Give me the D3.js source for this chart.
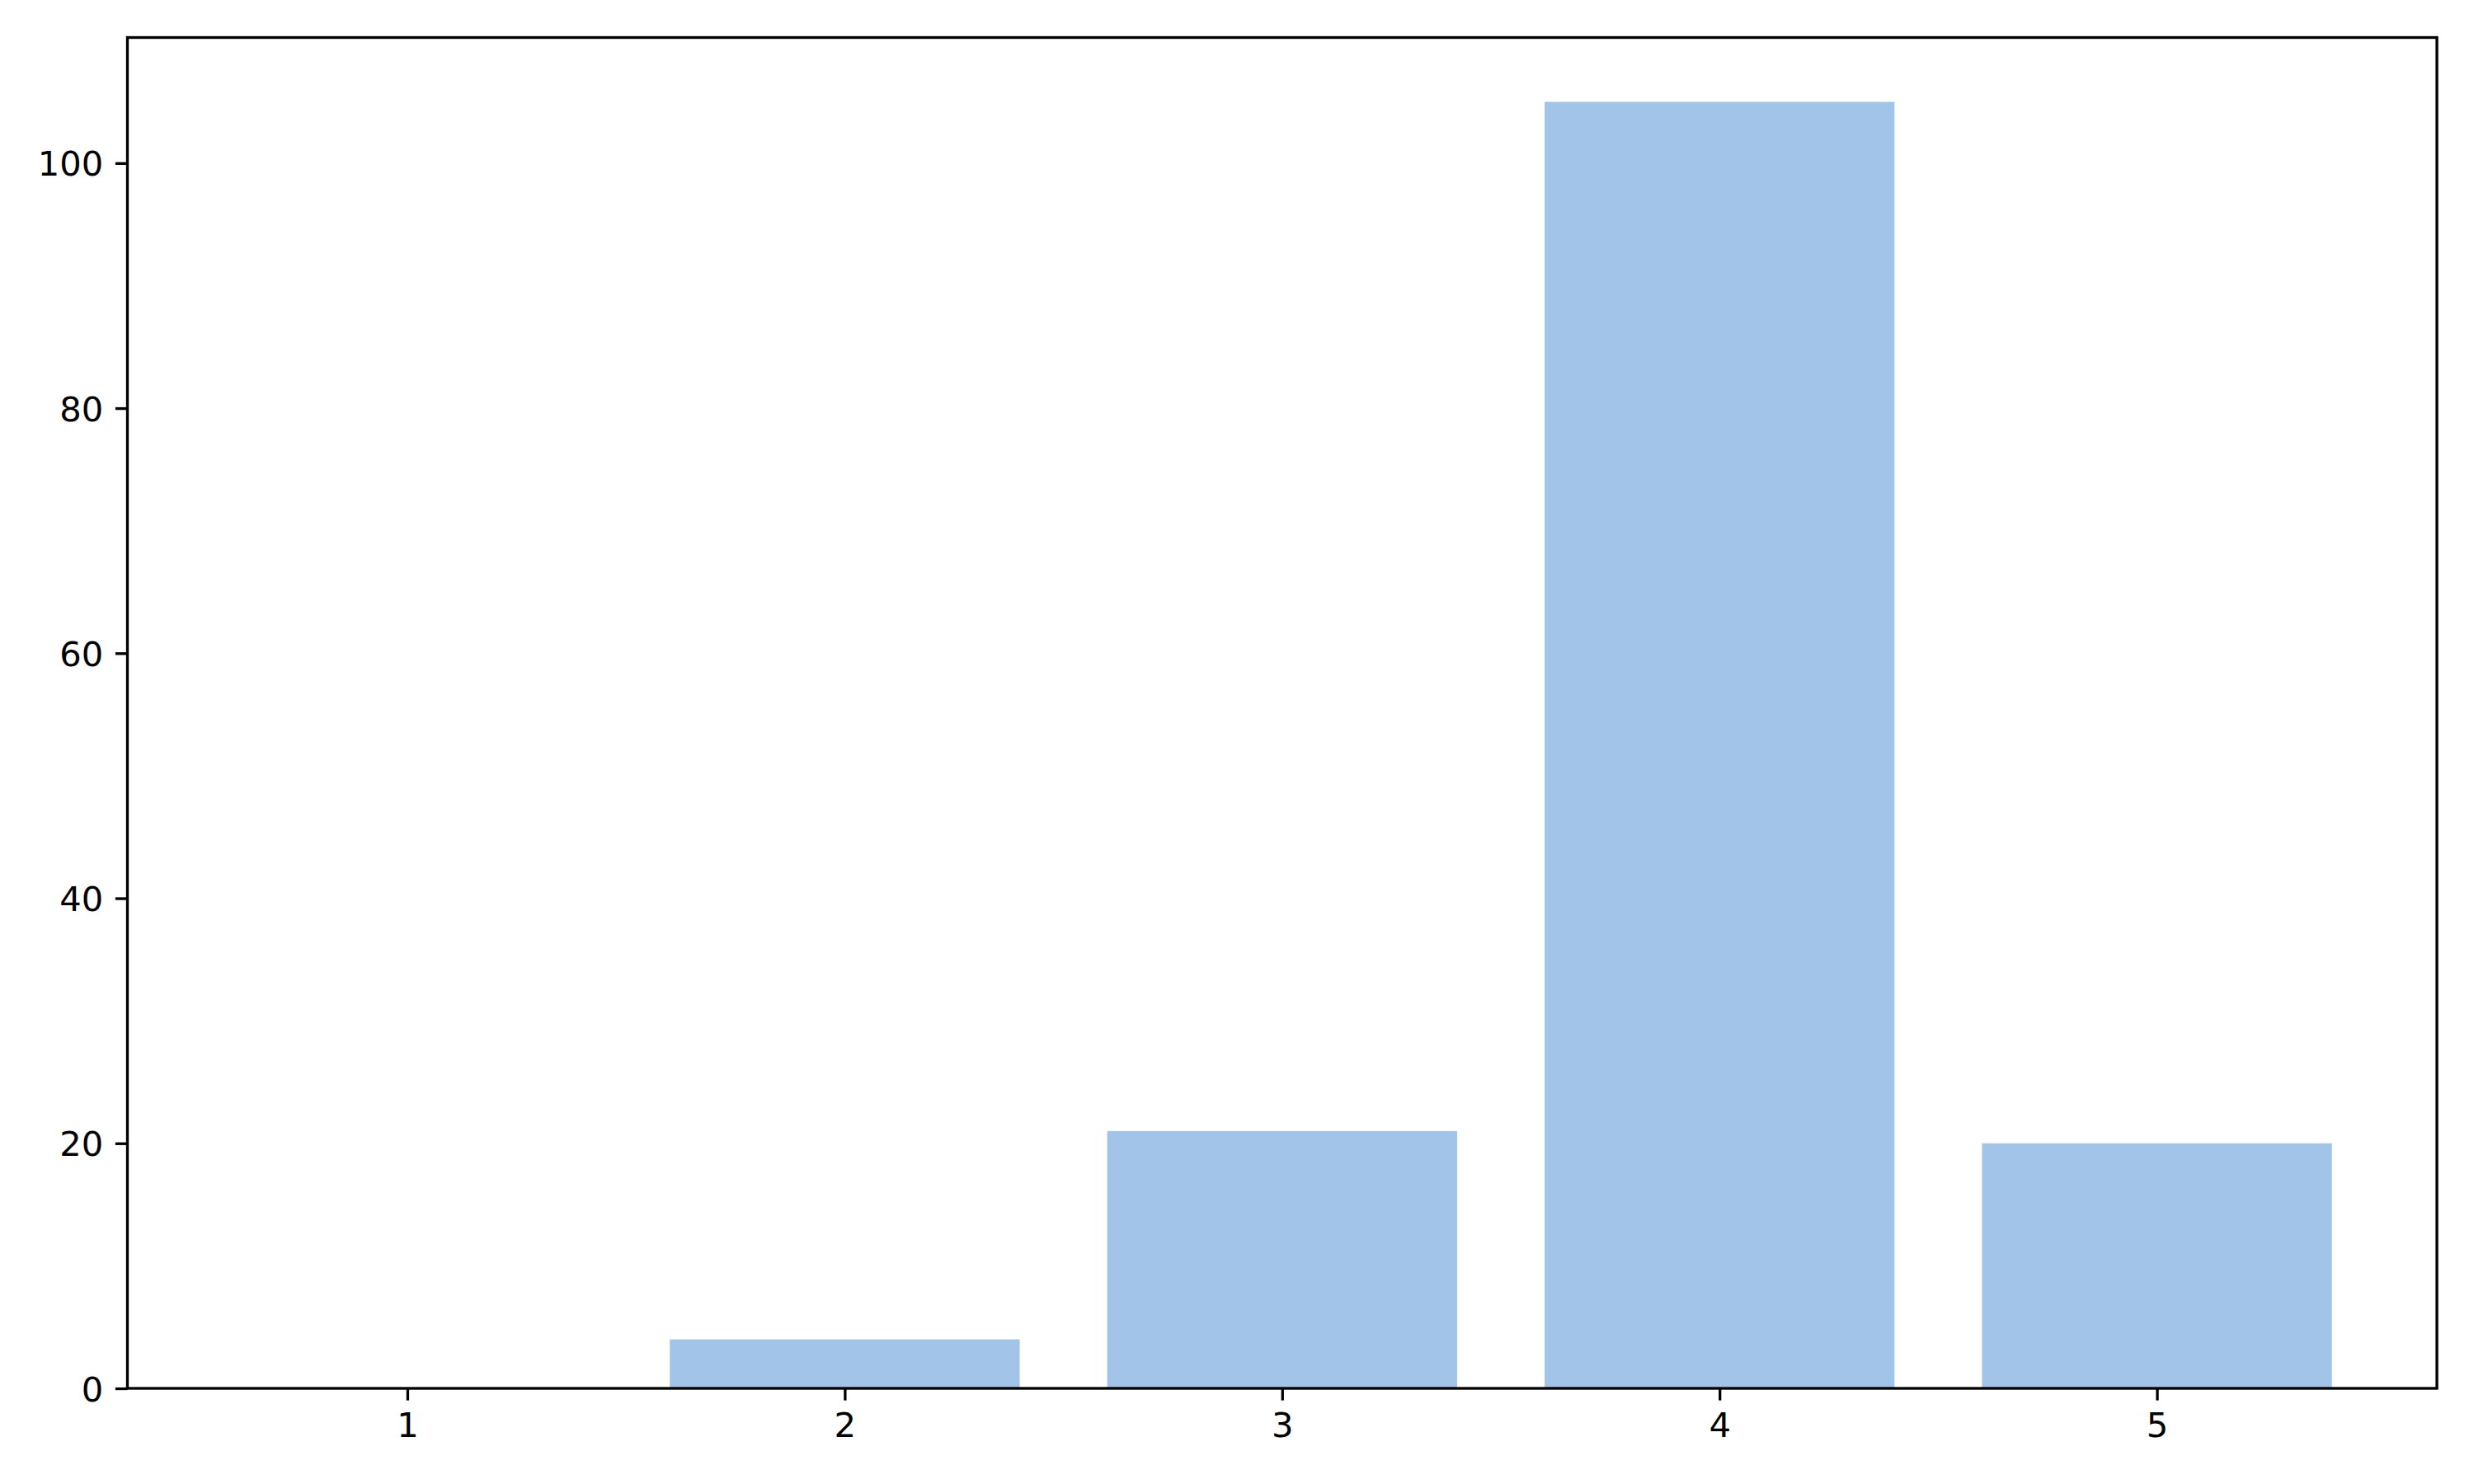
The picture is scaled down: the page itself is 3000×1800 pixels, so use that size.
<!DOCTYPE html>
<html>
<head>
<meta charset="utf-8">
<script src="https://cdn.jsdelivr.net/npm/d3@7"></script>
<style>
  body { margin: 0; background: #fff; }
  svg { display: block; }
  .tick text { font-family: "DejaVu Sans", sans-serif; font-size: 41.67px; fill: #000; }
</style>
</head>
<body>
<svg id="chart"></svg>
<script>
// ---------- data ----------
var categories = [1, 2, 3, 4, 5];
var counts = [0, 4, 21, 105, 20];
var yTicks = [0, 20, 40, 60, 80, 100];

// ---------- layout ----------
var screen = {width: 3000, height: 1800};
var margins = {left: 154.5, right: 45, top: 45.5, bottom: 116};
var graph = {
  width: screen.width - margins.left - margins.right,
  height: screen.height - margins.top - margins.bottom
};

var svg = d3.select("#chart")
  .attr("width", screen.width)
  .attr("height", screen.height);

// matplotlib style: bars of width 0.8, 5% padding on each side
var barW = 0.8;
var xMin = categories[0] - barW / 2, xMax = categories[categories.length - 1] + barW / 2;
var xPad = (xMax - xMin) * 0.05;
var xScale = d3.scaleLinear()
  .domain([xMin - xPad, xMax + xPad])
  .range([0, graph.width]);

var yMax = d3.max(counts) * 1.05;
var yScale = d3.scaleLinear()
  .domain([0, yMax])
  .range([graph.height, 0]);

var target = svg.append("g")
  .attr("transform", "translate(" + margins.left + "," + margins.top + ")");

// ---------- bars ----------
target.selectAll("rect.bar")
  .data(categories)
  .enter()
  .append("rect")
  .attr("class", "bar")
  .attr("x", function(d) { return xScale(d - barW / 2); })
  .attr("width", function(d) { return xScale(d + barW / 2) - xScale(d - barW / 2); })
  .attr("y", function(d, i) { return yScale(counts[i]); })
  .attr("height", function(d, i) { return yScale(0) - yScale(counts[i]); })
  .attr("fill", "#a1c4e8");

// ---------- axes ----------
var xAxis = d3.axisBottom(xScale)
  .tickValues(categories)
  .tickFormat(d3.format("d"))
  .tickSize(14.6)
  .tickPadding(14.6)
  .tickSizeOuter(0);
var gx = target.append("g")
  .attr("transform", "translate(0," + graph.height + ")")
  .call(xAxis);

var yAxis = d3.axisLeft(yScale)
  .tickValues(yTicks)
  .tickFormat(d3.format("d"))
  .tickSize(14.6)
  .tickPadding(14.6)
  .tickSizeOuter(0);
var gy = target.append("g").call(yAxis);

[gx, gy].forEach(function(g) {
  g.select(".domain").remove();
  g.selectAll(".tick line").attr("stroke", "#000").attr("stroke-width", 3.33);
});
gy.selectAll(".tick text").attr("dy", "0.36em");

// frame (spines)
target.append("rect")
  .attr("x", 0).attr("y", 0)
  .attr("width", graph.width).attr("height", graph.height)
  .attr("fill", "none")
  .attr("stroke", "#000")
  .attr("stroke-width", 3.33);
</script>
</body>
</html>
